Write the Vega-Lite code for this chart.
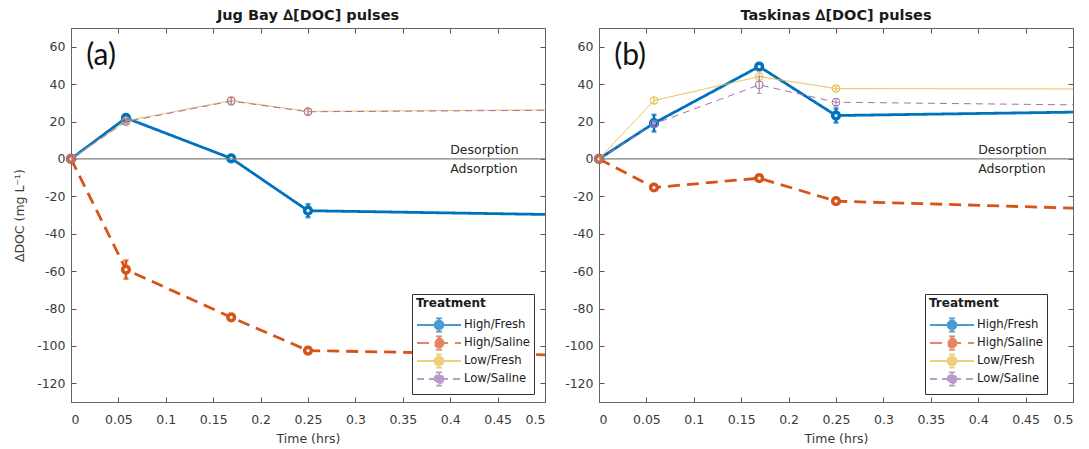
{
  "$schema": "https://vega.github.io/schema/vega-lite/v6.json",
  "background": "white",
  "padding": {"left": 13, "top": 7, "right": 5, "bottom": 5},
  "spacing": 12,
  "datasets": {
    "doc": [
      {"site": "Jug Bay", "treatment": "High/Fresh", "t": 0, "value": 0, "err": 0},
      {"site": "Jug Bay", "treatment": "High/Fresh", "t": 0.058, "value": 21.9, "err": 1.5},
      {"site": "Jug Bay", "treatment": "High/Fresh", "t": 0.169, "value": 0.3, "err": 1},
      {"site": "Jug Bay", "treatment": "High/Fresh", "t": 0.25, "value": -27.7, "err": 3.5},
      {"site": "Jug Bay", "treatment": "High/Fresh", "t": 0.5, "value": -29.7, "err": null},
      {"site": "Jug Bay", "treatment": "High/Saline", "t": 0, "value": 0, "err": 0},
      {"site": "Jug Bay", "treatment": "High/Saline", "t": 0.058, "value": -59.2, "err": 4.9},
      {"site": "Jug Bay", "treatment": "High/Saline", "t": 0.169, "value": -84.7, "err": 1.5},
      {"site": "Jug Bay", "treatment": "High/Saline", "t": 0.25, "value": -102.5, "err": 1.5},
      {"site": "Jug Bay", "treatment": "High/Saline", "t": 0.5, "value": -104.8, "err": null},
      {"site": "Jug Bay", "treatment": "Low/Fresh", "t": 0, "value": 0, "err": 0},
      {"site": "Jug Bay", "treatment": "Low/Fresh", "t": 0.058, "value": 20.3, "err": 1.2},
      {"site": "Jug Bay", "treatment": "Low/Fresh", "t": 0.169, "value": 31.2, "err": 2},
      {"site": "Jug Bay", "treatment": "Low/Fresh", "t": 0.25, "value": 25.4, "err": 1.5},
      {"site": "Jug Bay", "treatment": "Low/Fresh", "t": 0.5, "value": 26.2, "err": null},
      {"site": "Jug Bay", "treatment": "Low/Saline", "t": 0, "value": 0, "err": 0},
      {"site": "Jug Bay", "treatment": "Low/Saline", "t": 0.058, "value": 19.9, "err": 1.2},
      {"site": "Jug Bay", "treatment": "Low/Saline", "t": 0.169, "value": 30.9, "err": 2},
      {"site": "Jug Bay", "treatment": "Low/Saline", "t": 0.25, "value": 25.2, "err": 1.5},
      {"site": "Jug Bay", "treatment": "Low/Saline", "t": 0.5, "value": 26.0, "err": null},
      {"site": "Taskinas", "treatment": "High/Fresh", "t": 0, "value": 0, "err": 0},
      {"site": "Taskinas", "treatment": "High/Fresh", "t": 0.058, "value": 19.1, "err": 4.5},
      {"site": "Taskinas", "treatment": "High/Fresh", "t": 0.169, "value": 49.4, "err": 1.5},
      {"site": "Taskinas", "treatment": "High/Fresh", "t": 0.25, "value": 23.2, "err": 3.8},
      {"site": "Taskinas", "treatment": "High/Fresh", "t": 0.5, "value": 25.0, "err": null},
      {"site": "Taskinas", "treatment": "High/Saline", "t": 0, "value": 0, "err": 0},
      {"site": "Taskinas", "treatment": "High/Saline", "t": 0.058, "value": -15.3, "err": 1.2},
      {"site": "Taskinas", "treatment": "High/Saline", "t": 0.169, "value": -10.3, "err": 1.2},
      {"site": "Taskinas", "treatment": "High/Saline", "t": 0.25, "value": -22.6, "err": 1.2},
      {"site": "Taskinas", "treatment": "High/Saline", "t": 0.5, "value": -26.3, "err": null},
      {"site": "Taskinas", "treatment": "Low/Fresh", "t": 0, "value": 0, "err": 0},
      {"site": "Taskinas", "treatment": "Low/Fresh", "t": 0.058, "value": 31.2, "err": 1.5},
      {"site": "Taskinas", "treatment": "Low/Fresh", "t": 0.169, "value": 44.0, "err": 2.5},
      {"site": "Taskinas", "treatment": "Low/Fresh", "t": 0.25, "value": 37.6, "err": 1.2},
      {"site": "Taskinas", "treatment": "Low/Fresh", "t": 0.5, "value": 37.4, "err": null},
      {"site": "Taskinas", "treatment": "Low/Saline", "t": 0, "value": 0, "err": 0},
      {"site": "Taskinas", "treatment": "Low/Saline", "t": 0.058, "value": 18.7, "err": 1.5},
      {"site": "Taskinas", "treatment": "Low/Saline", "t": 0.169, "value": 39.6, "err": 4.6},
      {"site": "Taskinas", "treatment": "Low/Saline", "t": 0.25, "value": 30.3, "err": 2},
      {"site": "Taskinas", "treatment": "Low/Saline", "t": 0.5, "value": 28.9, "err": null}
    ]
  },
  "hconcat": [
    {
      "width": 474,
      "height": 374,
      "title": {"text": "Jug Bay \u2206[DOC] pulses"},
      "data": {"name": "doc"},
      "transform": [{"filter": "datum.site === 'Jug Bay'"}],
      "resolve": {"axis": {"x": "independent", "y": "independent"}},
      "layer": [
        {
          "transform": [{"filter": "indexof(datum.treatment, 'High') === 0"}],
          "mark": {"type": "line", "strokeWidth": 2.8},
          "encoding": {
            "x": {"field": "t", "type": "quantitative", "title": "Time (hrs)", "scale": {"domain": [0, 0.5], "nice": false, "zero": false},
                  "axis": {"values": [0, 0.05, 0.1, 0.15, 0.2, 0.25, 0.3, 0.35, 0.4, 0.45, 0.5], "format": ".2~f", "labelPadding": 16, "titlePadding": 7}},
            "y": {"field": "value", "type": "quantitative", "title": "\u2206DOC (mg L\u207b\u00b9)", "scale": {"domain": [-130, 70], "nice": false, "zero": false},
                  "axis": {"values": [-120, -100, -80, -60, -40, -20, 0, 20, 40, 60], "labelExpr": "'' + datum.value", "labelPadding": 11, "titlePadding": 10}},
            "color": {"field": "treatment", "type": "nominal",
                      "scale": {"domain": ["High/Fresh", "High/Saline", "Low/Fresh", "Low/Saline"], "range": ["#0072BD", "#D95319", "#E9BA45", "#9E72B0"]},
                      "legend": {"title": "Treatment", "orient": "none", "legendX": 341, "legendY": 266,
                                 "titleFontWeight": "bold", "titleFontSize": 12, "titleColor": "#1a1a1a", "titlePadding": 8,
                                 "labelFontSize": 11.6, "labelColor": "#1a1a1a", "labelOffset": 34,
                                 "symbolType": "M-1,0H6.33M3.42,0L3.32,0.375L3.045,0.65L2.67,0.75L2.295,0.65L2.02,0.375L1.92,0L2.02,-0.375L2.295,-0.65L2.67,-0.75L3.045,-0.65L3.32,-0.375ZM2.67,-1.1V1.1M2.17,-1.1H3.17M2.17,1.1H3.17",
                                 "symbolSize": 144, "symbolStrokeWidth": 1.8, "rowPadding": -4, "padding": 4, "strokeColor": "#333333", "fillColor": "white"}},
            "strokeDash": {"field": "treatment", "type": "nominal",
                           "scale": {"domain": ["High/Fresh", "High/Saline", "Low/Fresh", "Low/Saline"], "range": [[1, 0], [12, 7], [1, 0], [7, 5]]},
                           "legend": null}
          }
        },
        {
          "transform": [{"filter": "indexof(datum.treatment, 'High') === 0 && datum.err > 0"}],
          "mark": {"type": "errorbar", "thickness": 2.5, "ticks": {"thickness": 2.5}},
          "encoding": {
            "x": {"field": "t", "type": "quantitative", "axis": null},
            "y": {"field": "value", "type": "quantitative", "axis": null},
            "yError": {"field": "err"},
            "color": {"field": "treatment", "type": "nominal"}
          }
        },
        {
          "transform": [{"filter": "indexof(datum.treatment, 'High') === 0 && datum.t < 0.5"}],
          "mark": {"type": "point", "filled": false, "fill": "white", "strokeWidth": 3.5, "size": 45, "opacity": 1},
          "encoding": {
            "x": {"field": "t", "type": "quantitative", "title": null,
                  "axis": {"orient": "top", "labels": false, "domain": false, "values": [0, 0.05, 0.1, 0.15, 0.2, 0.25, 0.3, 0.35, 0.4, 0.45, 0.5]}},
            "y": {"field": "value", "type": "quantitative", "title": null,
                  "axis": {"orient": "right", "labels": false, "domain": false, "values": [-120, -100, -80, -60, -40, -20, 0, 20, 40, 60]}},
            "color": {"field": "treatment", "type": "nominal"}
          }
        },
        {
          "transform": [{"filter": "indexof(datum.treatment, 'Low') === 0"}],
          "mark": {"type": "line", "strokeWidth": 1},
          "encoding": {
            "x": {"field": "t", "type": "quantitative", "axis": null},
            "y": {"field": "value", "type": "quantitative", "axis": null},
            "color": {"field": "treatment", "type": "nominal"},
            "strokeDash": {"field": "treatment", "type": "nominal", "legend": null}
          }
        },
        {
          "transform": [{"filter": "indexof(datum.treatment, 'Low') === 0 && datum.err > 0"}],
          "mark": {"type": "errorbar", "thickness": 1, "ticks": {"thickness": 1}},
          "encoding": {
            "x": {"field": "t", "type": "quantitative", "axis": null},
            "y": {"field": "value", "type": "quantitative", "axis": null},
            "yError": {"field": "err"},
            "color": {"field": "treatment", "type": "nominal"}
          }
        },
        {
          "transform": [{"filter": "indexof(datum.treatment, 'Low') === 0 && datum.t < 0.5"}],
          "mark": {"type": "point", "filled": false, "strokeWidth": 1, "size": 60, "opacity": 1},
          "encoding": {
            "x": {"field": "t", "type": "quantitative", "axis": null},
            "y": {"field": "value", "type": "quantitative", "axis": null},
            "color": {"field": "treatment", "type": "nominal"}
          }
        },
        {
          "data": {"values": [{}]},
          "mark": {"type": "rule", "color": "#7f7f7f", "strokeWidth": 1.3},
          "encoding": {"y": {"datum": 0, "type": "quantitative", "axis": null}}
        },
        {
          "data": {"values": [{}]},
          "mark": {"type": "text", "text": "Desorption", "align": "left", "baseline": "middle", "dy": -9, "fontSize": 12.5, "color": "#262626"},
          "encoding": {"x": {"datum": 0.4, "type": "quantitative", "axis": null}, "y": {"datum": 0, "type": "quantitative", "axis": null}}
        },
        {
          "data": {"values": [{}]},
          "mark": {"type": "text", "text": "Adsorption", "align": "left", "baseline": "middle", "dy": 10, "fontSize": 12.5, "color": "#262626"},
          "encoding": {"x": {"datum": 0.4, "type": "quantitative", "axis": null}, "y": {"datum": 0, "type": "quantitative", "axis": null}}
        },
        {
          "data": {"values": [{}]},
          "mark": {"type": "text", "text": "(a)", "align": "left", "baseline": "middle", "font": "Lato", "fontSize": 30, "color": "#111111"},
          "encoding": {"x": {"datum": 0.016, "type": "quantitative", "axis": null}, "y": {"datum": 55, "type": "quantitative", "axis": null}}
        }
      ]
    },
    {
      "width": 474,
      "height": 374,
      "title": {"text": "Taskinas \u2206[DOC] pulses"},
      "data": {"name": "doc"},
      "transform": [{"filter": "datum.site === 'Taskinas'"}],
      "resolve": {"axis": {"x": "independent", "y": "independent"}},
      "layer": [
        {
          "transform": [{"filter": "indexof(datum.treatment, 'High') === 0"}],
          "mark": {"type": "line", "strokeWidth": 2.8},
          "encoding": {
            "x": {"field": "t", "type": "quantitative", "title": "Time (hrs)", "scale": {"domain": [0, 0.5], "nice": false, "zero": false},
                  "axis": {"values": [0, 0.05, 0.1, 0.15, 0.2, 0.25, 0.3, 0.35, 0.4, 0.45, 0.5], "format": ".2~f", "labelPadding": 16, "titlePadding": 7}},
            "y": {"field": "value", "type": "quantitative", "title": null, "scale": {"domain": [-130, 70], "nice": false, "zero": false},
                  "axis": {"values": [-120, -100, -80, -60, -40, -20, 0, 20, 40, 60], "labelExpr": "'' + datum.value", "labelPadding": 11}},
            "color": {"field": "treatment", "type": "nominal",
                      "scale": {"domain": ["High/Fresh", "High/Saline", "Low/Fresh", "Low/Saline"], "range": ["#0072BD", "#D95319", "#E9BA45", "#9E72B0"]},
                      "legend": {"title": "Treatment", "orient": "none", "legendX": 326, "legendY": 266,
                                 "titleFontWeight": "bold", "titleFontSize": 12, "titleColor": "#1a1a1a", "titlePadding": 8,
                                 "labelFontSize": 11.6, "labelColor": "#1a1a1a", "labelOffset": 34,
                                 "symbolType": "M-1,0H6.33M3.42,0L3.32,0.375L3.045,0.65L2.67,0.75L2.295,0.65L2.02,0.375L1.92,0L2.02,-0.375L2.295,-0.65L2.67,-0.75L3.045,-0.65L3.32,-0.375ZM2.67,-1.1V1.1M2.17,-1.1H3.17M2.17,1.1H3.17",
                                 "symbolSize": 144, "symbolStrokeWidth": 1.8, "rowPadding": -4, "padding": 4, "strokeColor": "#333333", "fillColor": "white"}},
            "strokeDash": {"field": "treatment", "type": "nominal",
                           "scale": {"domain": ["High/Fresh", "High/Saline", "Low/Fresh", "Low/Saline"], "range": [[1, 0], [12, 7], [1, 0], [7, 5]]},
                           "legend": null}
          }
        },
        {
          "transform": [{"filter": "indexof(datum.treatment, 'High') === 0 && datum.err > 0"}],
          "mark": {"type": "errorbar", "thickness": 2.5, "ticks": {"thickness": 2.5}},
          "encoding": {
            "x": {"field": "t", "type": "quantitative", "axis": null},
            "y": {"field": "value", "type": "quantitative", "axis": null},
            "yError": {"field": "err"},
            "color": {"field": "treatment", "type": "nominal"}
          }
        },
        {
          "transform": [{"filter": "indexof(datum.treatment, 'High') === 0 && datum.t < 0.5"}],
          "mark": {"type": "point", "filled": false, "fill": "white", "strokeWidth": 3.5, "size": 45, "opacity": 1},
          "encoding": {
            "x": {"field": "t", "type": "quantitative", "title": null,
                  "axis": {"orient": "top", "labels": false, "domain": false, "values": [0, 0.05, 0.1, 0.15, 0.2, 0.25, 0.3, 0.35, 0.4, 0.45, 0.5]}},
            "y": {"field": "value", "type": "quantitative", "title": null,
                  "axis": {"orient": "right", "labels": false, "domain": false, "values": [-120, -100, -80, -60, -40, -20, 0, 20, 40, 60]}},
            "color": {"field": "treatment", "type": "nominal"}
          }
        },
        {
          "transform": [{"filter": "indexof(datum.treatment, 'Low') === 0"}],
          "mark": {"type": "line", "strokeWidth": 1},
          "encoding": {
            "x": {"field": "t", "type": "quantitative", "axis": null},
            "y": {"field": "value", "type": "quantitative", "axis": null},
            "color": {"field": "treatment", "type": "nominal"},
            "strokeDash": {"field": "treatment", "type": "nominal", "legend": null}
          }
        },
        {
          "transform": [{"filter": "indexof(datum.treatment, 'Low') === 0 && datum.err > 0"}],
          "mark": {"type": "errorbar", "thickness": 1, "ticks": {"thickness": 1}},
          "encoding": {
            "x": {"field": "t", "type": "quantitative", "axis": null},
            "y": {"field": "value", "type": "quantitative", "axis": null},
            "yError": {"field": "err"},
            "color": {"field": "treatment", "type": "nominal"}
          }
        },
        {
          "transform": [{"filter": "indexof(datum.treatment, 'Low') === 0 && datum.t < 0.5"}],
          "mark": {"type": "point", "filled": false, "strokeWidth": 1, "size": 60, "opacity": 1},
          "encoding": {
            "x": {"field": "t", "type": "quantitative", "axis": null},
            "y": {"field": "value", "type": "quantitative", "axis": null},
            "color": {"field": "treatment", "type": "nominal"}
          }
        },
        {
          "data": {"values": [{}]},
          "mark": {"type": "rule", "color": "#7f7f7f", "strokeWidth": 1.3},
          "encoding": {"y": {"datum": 0, "type": "quantitative", "axis": null}}
        },
        {
          "data": {"values": [{}]},
          "mark": {"type": "text", "text": "Desorption", "align": "left", "baseline": "middle", "dy": -9, "fontSize": 12.5, "color": "#262626"},
          "encoding": {"x": {"datum": 0.4, "type": "quantitative", "axis": null}, "y": {"datum": 0, "type": "quantitative", "axis": null}}
        },
        {
          "data": {"values": [{}]},
          "mark": {"type": "text", "text": "Adsorption", "align": "left", "baseline": "middle", "dy": 10, "fontSize": 12.5, "color": "#262626"},
          "encoding": {"x": {"datum": 0.4, "type": "quantitative", "axis": null}, "y": {"datum": 0, "type": "quantitative", "axis": null}}
        },
        {
          "data": {"values": [{}]},
          "mark": {"type": "text", "text": "(b)", "align": "left", "baseline": "middle", "font": "Lato", "fontSize": 30, "color": "#111111"},
          "encoding": {"x": {"datum": 0.016, "type": "quantitative", "axis": null}, "y": {"datum": 55, "type": "quantitative", "axis": null}}
        }
      ]
    }
  ],
  "resolve": {
    "scale": {"color": "independent", "strokeDash": "independent"},
    "legend": {"color": "independent", "strokeDash": "independent"}
  },
  "config": {
    "font": "DejaVu Sans",
    "view": {"stroke": "#666666", "strokeWidth": 1},
    "title": {"font": "DejaVu Sans", "fontSize": 14.5, "fontWeight": "bold", "color": "#1a1a1a", "offset": 4},
    "axis": {
      "grid": false,
      "domainColor": "#666666",
      "tickColor": "#555555",
      "tickSize": -5,
      "labelColor": "#3a3a3a",
      "titleColor": "#3a3a3a",
      "labelFont": "DejaVu Sans",
      "titleFont": "DejaVu Sans",
      "labelFontSize": 12.5,
      "titleFontSize": 12.5,
      "titleFontWeight": "normal"
    },
    "legend": {"labelFont": "DejaVu Sans", "titleFont": "DejaVu Sans"}
  }
}
